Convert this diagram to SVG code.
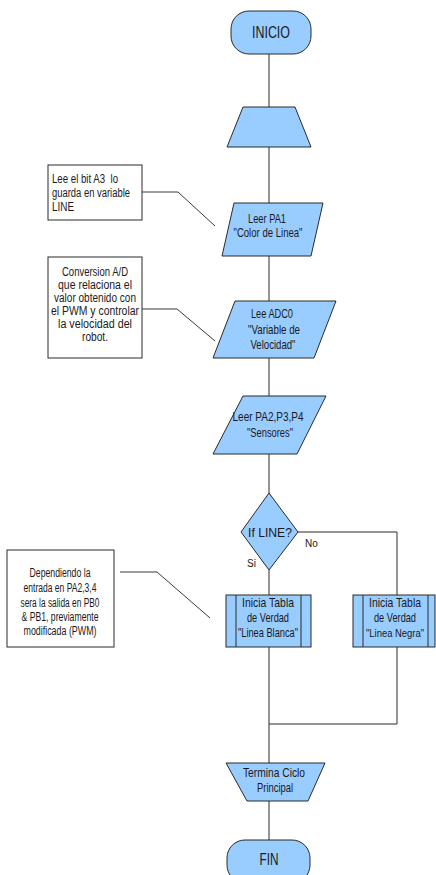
<svg xmlns="http://www.w3.org/2000/svg" width="436" height="875" viewBox="0 0 436 875">
  <style>
    .shape { fill: #99ccff; stroke: #2a2a2a; stroke-width: 1; }
    .note { fill: #ffffff; stroke: #2a2a2a; stroke-width: 1; }
    .wire { fill: none; stroke: #2a2a2a; stroke-width: 1; }
    .lead { fill: none; stroke: #3a3a3a; stroke-width: 1; }
    text { font-family: "Liberation Sans Narrow", "Arial Narrow", "Liberation Sans", Arial, sans-serif; fill: #1a1a1a; }
    .t { font-size: 13.5px; text-anchor: middle; }
    .ts { font-size: 11.5px; text-anchor: middle; }
    .big { font-size: 16px; text-anchor: middle; }
    .n { font-size: 12px; }
    .nc { font-size: 12px; text-anchor: middle; }
    .lbl { font-size: 10px; }
  </style>
  <rect width="436" height="875" fill="#ffffff"/>

  <!-- flow lines -->
  <g id="connectors">
    <path class="wire" d="M269 54 V107"/>
    <path class="wire" d="M269 147 V203"/>
    <path class="wire" d="M269 256 V301"/>
    <path class="wire" d="M269 358 V396"/>
    <path class="wire" d="M269 454 V493"/>
    <path class="wire" d="M269 570 V595"/>
    <path class="wire" d="M298 532 H397 V595"/>
    <path class="wire" d="M269 647 V763"/>
    <path class="wire" d="M397 647 V724 H269"/>
    <path class="wire" d="M269 801 V840"/>
    <!-- comment leaders -->
    <path class="lead" d="M142 192 H178 L215 226"/>
    <path class="lead" d="M142 309 H177 L215 341"/>
    <path class="lead" d="M120 572 H157 L210 618"/>
  </g>

  <g id="inicio">
    <rect class="shape" x="231" y="11" width="80" height="43" rx="18" ry="18"/>
    <text class="big" x="271" y="38" textLength="38" lengthAdjust="spacingAndGlyphs">INICIO</text>
  </g>

  <g id="entrada">
    <polygon class="shape" points="243,107 295,107 311,147 227,147"/>
  </g>

  <g id="nota-line">
    <rect class="note" x="48" y="165" width="94" height="55"/>
    <text class="n" x="52" y="183" textLength="66" lengthAdjust="spacingAndGlyphs" xml:space="preserve">Lee el bit A3  lo</text>
    <text class="n" x="52" y="197" textLength="78" lengthAdjust="spacingAndGlyphs">guarda en variable</text>
    <text class="n" x="52" y="211" textLength="22" lengthAdjust="spacingAndGlyphs">LINE</text>
  </g>

  <g id="leer-pa1">
    <polygon class="shape" points="234,203 323,203 311,256 222,256"/>
    <text class="t" x="267" y="223" textLength="38" lengthAdjust="spacingAndGlyphs">Leer PA1</text>
    <text class="t" x="268" y="237" textLength="69" lengthAdjust="spacingAndGlyphs">"Color de Linea"</text>
  </g>

  <g id="nota-adc">
    <rect class="note" x="48" y="257" width="94" height="101"/>
    <text class="nc" x="95" y="276" textLength="66" lengthAdjust="spacingAndGlyphs">Conversion A/D</text>
    <text class="nc" x="95" y="289" textLength="74" lengthAdjust="spacingAndGlyphs">que relaciona el</text>
    <text class="nc" x="95" y="302" textLength="82" lengthAdjust="spacingAndGlyphs">valor obtenido con</text>
    <text class="nc" x="95" y="315" textLength="88" lengthAdjust="spacingAndGlyphs">el PWM y controlar</text>
    <text class="nc" x="95" y="328" textLength="74" lengthAdjust="spacingAndGlyphs">la velocidad del</text>
    <text class="nc" x="95" y="341" textLength="26" lengthAdjust="spacingAndGlyphs">robot.</text>
  </g>

  <g id="lee-adc0">
    <polygon class="shape" points="235,301 336,301 314,358 213,358"/>
    <text class="t" x="272" y="318" textLength="42" lengthAdjust="spacingAndGlyphs">Lee ADC0</text>
    <text class="t" x="274" y="334" textLength="52" lengthAdjust="spacingAndGlyphs">"Variable de</text>
    <text class="t" x="273" y="349" textLength="45" lengthAdjust="spacingAndGlyphs">Velocidad"</text>
  </g>

  <g id="leer-pa2">
    <polygon class="shape" points="243,396 326,396 297,454 213,454"/>
    <text class="t" x="268" y="421" textLength="71" lengthAdjust="spacingAndGlyphs">Leer PA2,P3,P4</text>
    <text class="t" x="270" y="437" textLength="46" lengthAdjust="spacingAndGlyphs">"Sensores"</text>
  </g>

  <g id="if-line">
    <polygon class="shape" points="269,493 298,532 269,570 241,532"/>
    <text class="t" x="270" y="537" textLength="44" lengthAdjust="spacingAndGlyphs">If LINE?</text>
    <text class="lbl" x="305" y="547">No</text>
    <text class="lbl" x="247" y="567">Si</text>
  </g>

  <g id="nota-tabla">
    <rect class="note" x="7" y="550" width="107" height="97"/>
    <text class="nc" x="60" y="577" textLength="61" lengthAdjust="spacingAndGlyphs">Dependiendo la</text>
    <text class="nc" x="60" y="592" textLength="73" lengthAdjust="spacingAndGlyphs">entrada en PA2,3,4</text>
    <text class="nc" x="60" y="607" textLength="79" lengthAdjust="spacingAndGlyphs">sera la salida en PB0</text>
    <text class="nc" x="60" y="621" textLength="77" lengthAdjust="spacingAndGlyphs">&amp; PB1, previamente</text>
    <text class="nc" x="60" y="635" textLength="73" lengthAdjust="spacingAndGlyphs">modificada (PWM)</text>
  </g>

  <g id="tabla-blanca">
    <rect class="shape" x="226" y="595" width="85" height="52"/>
    <path class="wire" d="M236 595 V647 M301 595 V647"/>
    <text class="t" x="268" y="607" textLength="52" lengthAdjust="spacingAndGlyphs">Inicia Tabla</text>
    <text class="t" x="268" y="622" textLength="42" lengthAdjust="spacingAndGlyphs">de Verdad</text>
    <text class="t" x="268" y="637" textLength="60" lengthAdjust="spacingAndGlyphs">"Linea Blanca"</text>
  </g>

  <g id="tabla-negra">
    <rect class="shape" x="353" y="595" width="82" height="52"/>
    <path class="wire" d="M363 595 V647 M428 595 V647"/>
    <text class="t" x="395" y="607" textLength="52" lengthAdjust="spacingAndGlyphs">Inicia Tabla</text>
    <text class="t" x="395" y="622" textLength="42" lengthAdjust="spacingAndGlyphs">de Verdad</text>
    <text class="ts" x="395" y="637" textLength="58" lengthAdjust="spacingAndGlyphs">"Linea Negra"</text>
  </g>

  <g id="termina">
    <polygon class="shape" points="226,763 325,763 308,801 247,801"/>
    <text class="t" x="274" y="777" textLength="62" lengthAdjust="spacingAndGlyphs">Termina Ciclo</text>
    <text class="t" x="275" y="792" textLength="36" lengthAdjust="spacingAndGlyphs">Principal</text>
  </g>

  <g id="fin">
    <rect class="shape" x="227" y="840" width="83" height="43" rx="18" ry="18"/>
    <text class="big" x="269" y="865" textLength="19" lengthAdjust="spacingAndGlyphs">FIN</text>
  </g>
</svg>
